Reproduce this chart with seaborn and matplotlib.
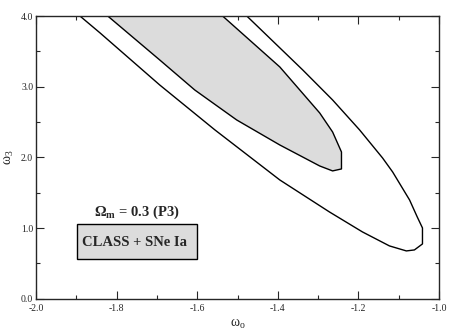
import numpy as np
import pandas as pd
import matplotlib
matplotlib.use("Agg")
import matplotlib.pyplot as plt
from matplotlib.patches import Rectangle
from matplotlib.ticker import MultipleLocator
import seaborn as sns

# contour values (w0, w3)
outer_w0 = [-1.891, -1.841, -1.693, -1.556, -1.395, -1.272, -1.190, -1.123, -1.081, -1.061,
            -1.041, -1.041, -1.054, -1.073, -1.115, -1.140, -1.197, -1.264, -1.338, -1.477]
outer_w3 = [4.000, 3.760, 3.024, 2.388, 1.680, 1.228, 0.945, 0.747, 0.676, 0.690,
            0.775, 1.001, 1.157, 1.397, 1.793, 1.991, 2.388, 2.812, 3.236, 4.000]

inner_w0 = [-1.822, -1.693, -1.606, -1.502, -1.395, -1.296, -1.264, -1.242, -1.242,
            -1.264, -1.296, -1.395, -1.537]
inner_w3 = [4.000, 3.378, 2.953, 2.529, 2.175, 1.878, 1.808, 1.836, 2.076,
            2.359, 2.628, 3.279, 4.000]

omega_label = "Ω$_\\mathbf{m}$ = 0.3 (P3)"
data_label = "CLASS + SNe Ia"

sns.set_style("ticks")
plt.rcParams['font.family'] = ['Liberation Serif', 'DejaVu Serif']
plt.rcParams['mathtext.fontset'] = 'custom'
plt.rcParams['mathtext.rm'] = 'Liberation Serif'
plt.rcParams['mathtext.it'] = 'Liberation Serif:italic'
plt.rcParams['mathtext.bf'] = 'Liberation Serif:bold'

df_out = pd.DataFrame({'w0': outer_w0, 'w3': outer_w3})
df_in = pd.DataFrame({'w0': inner_w0, 'w3': inner_w3})

fig = plt.figure(figsize=(4.57, 3.32), dpi=100)
ax = fig.add_axes([0.0788, 0.1003, 0.8818, 0.8515])

ax.fill(df_in['w0'], df_in['w3'], color='#dcdcdc', lw=0, zorder=1)
sns.lineplot(ax=ax, data=df_in, x='w0', y='w3', sort=False, estimator=None,
             color='black', lw=1.0, zorder=2)
sns.lineplot(ax=ax, data=df_out, x='w0', y='w3', sort=False, estimator=None,
             color='black', lw=1.0, zorder=2)

ax.set_xlim(-2.0, -1.0)
ax.set_ylim(0.0, 4.0)
ax.xaxis.set_major_locator(MultipleLocator(0.2))
ax.xaxis.set_minor_locator(MultipleLocator(0.1))
ax.yaxis.set_major_locator(MultipleLocator(1.0))
ax.yaxis.set_minor_locator(MultipleLocator(0.5))
ax.xaxis.set_major_formatter(matplotlib.ticker.FormatStrFormatter('%.1f'))
ax.yaxis.set_major_formatter(matplotlib.ticker.FormatStrFormatter('%.1f'))
ax.tick_params(which='both', direction='in', top=True, right=True, labelsize=7, width=0.8)
ax.tick_params(axis='x', pad=3.5)
ax.tick_params(axis='y', pad=2)
ax.tick_params(which='major', length=6)
ax.tick_params(which='minor', length=3)
for s in ax.spines.values():
    s.set_linewidth(1.0)
    s.set_visible(True)

ax.set_xlabel("ω$_\\mathrm{o}$", fontsize=10, labelpad=3)
ax.set_ylabel("ω$_3$", fontsize=10)
ax.yaxis.set_label_coords(-0.05, 0.5)

ax.add_patch(Rectangle((0.1016, 0.140), 0.299, 0.124, transform=ax.transAxes,
                       facecolor='#dcdcdc', edgecolor='black', lw=1.0, zorder=3))
ax.text(0.245, 0.200, data_label, transform=ax.transAxes, ha='center', va='center',
        fontsize=10.5, fontweight='bold', zorder=4)
ax.text(0.251, 0.305, omega_label, transform=ax.transAxes, ha='center', va='center',
        fontsize=10.5, fontweight='bold', zorder=4)

fig.savefig("out.png", dpi=100)
